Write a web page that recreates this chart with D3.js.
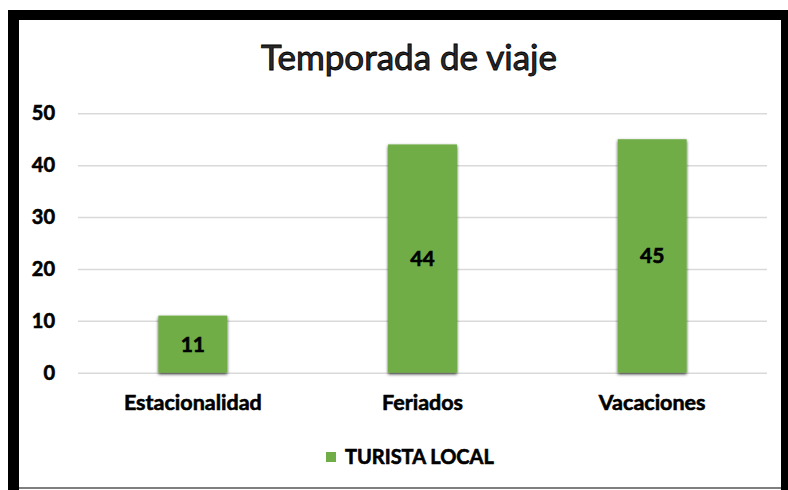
<!DOCTYPE html>
<html><head><meta charset="utf-8">
<script src="https://cdn.jsdelivr.net/npm/d3@7"></script>
<style>body{margin:0;background:#fff} svg{display:block}</style>
</head><body><svg id="c" width="788" height="490"></svg>
<script>
const categories = ["Estacionalidad", "Feriados", "Vacaciones"];
const values = [11, 44, 45];
const seriesName = "TURISTA LOCAL";
const yTicks = [0, 10, 20, 30, 40, 50];
const chartTitle = "Temporada de viaje";

const svg = d3.select("#c");
const FONT = "Lato, 'Open Sans', sans-serif";
const GREEN = "#70ad47";

const defs = svg.append("defs");
const f = defs.append("filter").attr("id", "sh").attr("x", "-20%").attr("y", "-20%").attr("width", "140%").attr("height", "140%");
f.append("feDropShadow").attr("dx", 0).attr("dy", 1.5).attr("stdDeviation", 1.6)
  .attr("flood-color", "#000").attr("flood-opacity", 0.75);

function boldText(sel, size) {
  return sel.attr("font-family", FONT).attr("font-weight", "bold").attr("font-size", size)
    .attr("fill", "#000").attr("stroke", "#000").attr("stroke-width", 0.6);
}

// frame
svg.append("rect").attr("x", 0).attr("y", 0).attr("width", 788).attr("height", 490).attr("fill", "#fff");
svg.append("line").attr("x1", 19).attr("x2", 781).attr("y1", 488).attr("y2", 488).attr("stroke", "#7f7f7f").attr("stroke-width", 2);
svg.append("rect").attr("x", 8).attr("y", 10).attr("width", 780).attr("height", 10).attr("fill", "#000");
svg.append("rect").attr("x", 8).attr("y", 10).attr("width", 11).attr("height", 480).attr("fill", "#000");
svg.append("rect").attr("x", 781).attr("y", 10).attr("width", 7).attr("height", 480).attr("fill", "#000");

const x = d3.scaleBand().domain(categories).range([78, 767]);
const y = d3.scaleLinear().domain([0, 50]).range([372.7, 113.3]);

// title
svg.append("text").attr("x", 409).attr("y", 70).attr("text-anchor", "middle")
  .attr("font-family", FONT).attr("font-size", 35).attr("fill", "#2a2a2a")
  .attr("stroke", "#000").attr("stroke-width", 0.9)
  .text(chartTitle);

// y axis + grid
const ya = svg.append("g").attr("transform", "translate(78,0)")
  .call(d3.axisLeft(y).tickValues(yTicks).tickSize(-689).tickPadding(23).tickFormat(d3.format("d")));
ya.select(".domain").remove();
ya.selectAll(".tick line").attr("stroke", "#d9d9d9").attr("stroke-width", 1.6);
boldText(ya.selectAll(".tick text"), 20);

// bars
const bw = x.bandwidth() * 0.3;
svg.append("g").selectAll("rect").data(values).join("rect")
  .attr("x", (d, i) => x(categories[i]) + (x.bandwidth() - bw) / 2)
  .attr("width", bw)
  .attr("y", d => y(d))
  .attr("height", d => y(0) - y(d))
  .attr("fill", GREEN)
  .attr("filter", "url(#sh)");

// bar labels
boldText(svg.append("g").selectAll("text").data(values).join("text")
  .attr("x", (d, i) => x(categories[i]) + x.bandwidth() / 2)
  .attr("y", d => (y(d) + y(0)) / 2)
  .attr("dy", "0.35em")
  .attr("text-anchor", "middle"), 21)
  .text(d => d);

// x axis labels
const xa = svg.append("g").attr("transform", "translate(0,372.7)")
  .call(d3.axisBottom(x).tickSize(0).tickPadding(0));
xa.select(".domain").remove();
boldText(xa.selectAll(".tick text").attr("y", 30).attr("dy", "0.35em"), 21.5);

// legend
const lg = svg.append("g");
lg.append("rect").attr("x", 326).attr("y", 452).attr("width", 10).attr("height", 10).attr("fill", GREEN);
boldText(lg.append("text").attr("x", 345).attr("y", 457).attr("dy", "0.35em"), 20)
  .text(seriesName);
</script></body></html>
